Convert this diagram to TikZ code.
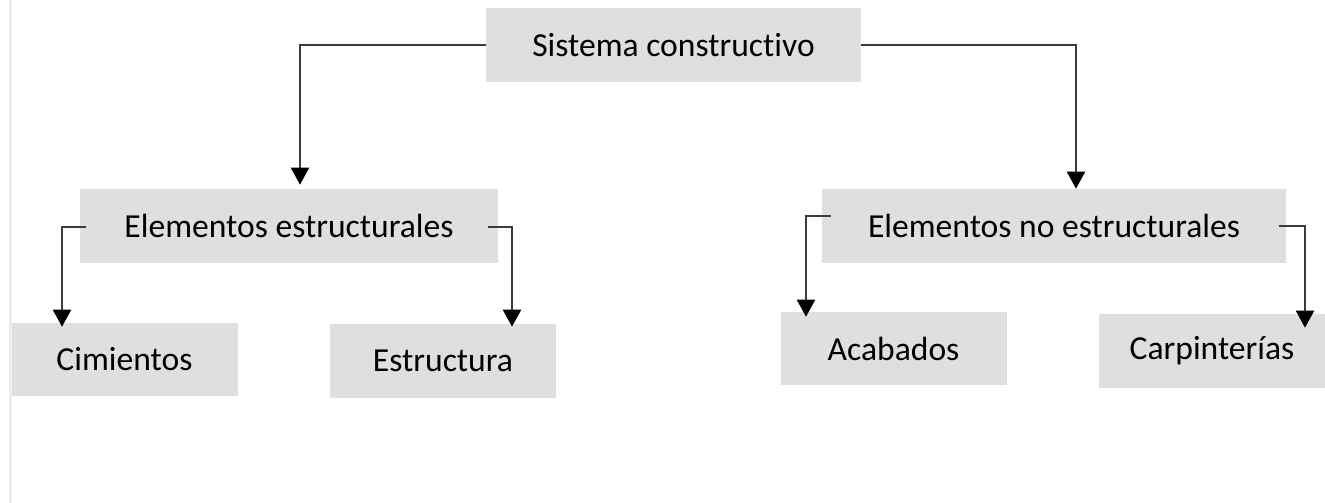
\documentclass[tikz,border=0pt]{standalone}
\usepackage{fontspec}
\setmainfont{Carlito}[Ligatures=NoCommon]
\usepackage{tikz}
\usetikzlibrary{calc}
\usetikzlibrary{arrows.meta, positioning}

\definecolor{boxgrey}{HTML}{E0DFDE}
\definecolor{linegrey}{HTML}{3C3C3C}
\definecolor{edgegrey}{HTML}{ECECEC}

\begin{document}
\begin{tikzpicture}[x=0.75pt,y=-0.75pt,
    box/.style={fill=boxgrey, inner sep=0pt, minimum height=55.5pt,
                font=\fontsize{25.2}{29}\selectfont},
    leaf/.style={box, minimum width=169.5pt},
    link/.style={draw=linegrey, line width=1.5pt,
                 -{Triangle[length=12.75pt,width=13.5pt,color=black]}}]
  \useasboundingbox (0,0) rectangle (1325,503);
  % left margin rule
  \draw[edgegrey, line width=2.25pt] (10,0) -- (10,503);

  \node[box, minimum width=281.25pt]  (sis)   at (673.5,45)  {Sistema constructivo};
  \node[box, minimum width=313.5pt]   (est)   at (289,226)   {Elementos estructurales};
  \node[box, minimum width=348pt]     (noest) at (1054,226)  {Elementos no estructurales};
  \node[leaf, minimum height=54.75pt] (cim)   at (124.5,359.5) {Cimientos};
  \node[leaf]                         (estr)  at (443,361)   {Estructura};
  \node[leaf, minimum height=54.75pt] (acab)  at (893.5,348.5) {Acabados};
  \node[leaf]                         (carp)  at (1212,351)  {Carpinterías};

  \draw[link] (sis.west) -| ($(est.north)+(11,-4)$);
  \draw[link] (sis.east) -| ($(noest.north)+(22,0)$);
  \draw[link] ($(est.west)+(6,1)$)     -| ($(cim.north)+(-62.5,4)$);
  \draw[link] ($(est.east)+(-10,1)$)   -| ($(estr.north)+(69,3)$);
  \draw[link] ($(noest.west)+(9,-10)$) -| ($(acab.north)+(-87.5,5)$);
  \draw[link] ($(noest.east)+(-7,0)$)  -| ($(carp.north)+(93,14)$);
\end{tikzpicture}
\end{document}
